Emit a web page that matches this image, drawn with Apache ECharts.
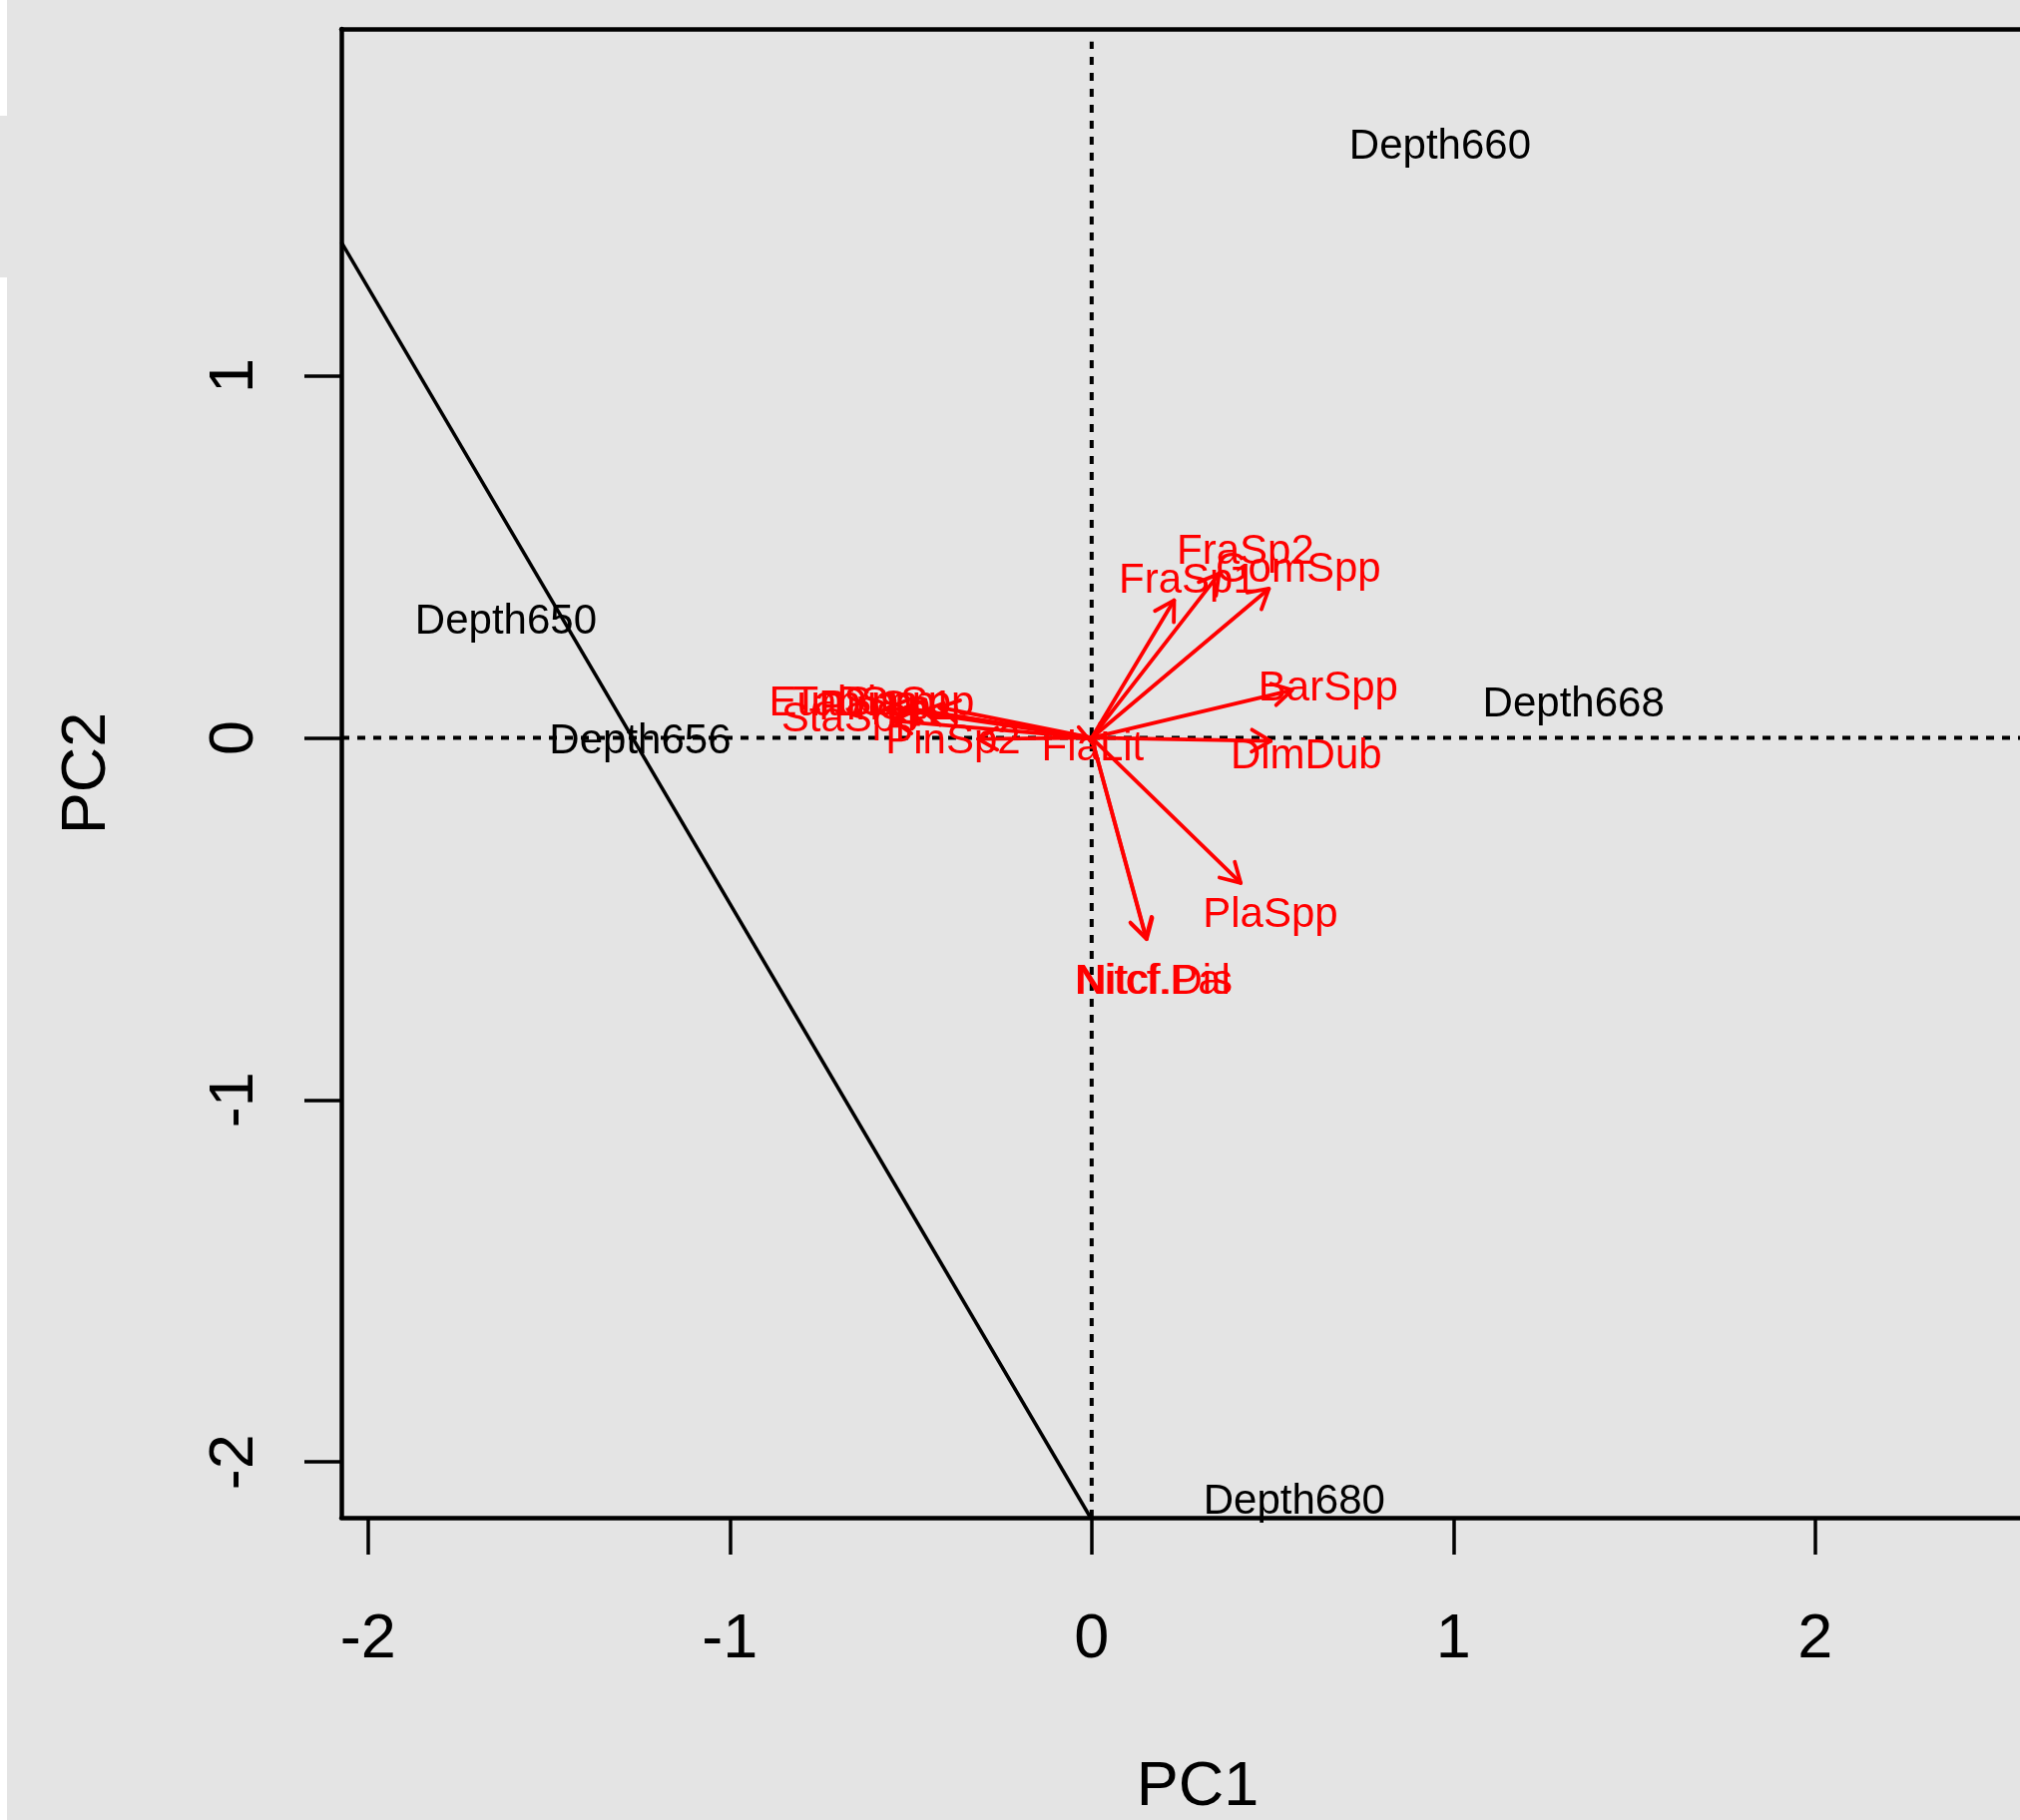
<!DOCTYPE html>
<html><head><meta charset="utf-8">
<script src="https://cdn.jsdelivr.net/npm/echarts@6/dist/echarts.min.js"></script>
<style>html,body{margin:0;padding:0;background:#e4e4e4}#c{width:2024px;height:1824px}</style>
</head><body><div id="c"></div>
<script>
// ---- data ----
const xTicks = [-2, -1, 0, 1, 2];
const yTicks = [-2, -1, 0, 1];
const sampleNames = ['Depth650', 'Depth656', 'Depth660', 'Depth668', 'Depth680'];
const sampleX = [-1.619, -1.248, 0.963, 1.332, 0.560];
const sampleY = [0.327, -0.004, 1.639, 0.099, -2.103];
const varNames = ['EunSpp', 'TabSpp', 'PinSp1', 'DiaSpp', 'StaSpp', 'PinSp2', 'FlaLit',
                  'FraSp1', 'FraSp2', 'GomSpp', 'BarSpp', 'DimDub', 'PlaSpp', 'Nitcf.Pal', 'Nitcf.Dis'];
const varX = [-0.686, -0.629, -0.568, -0.514, -0.668, -0.383, 0.003,
              0.265, 0.425, 0.571, 0.654, 0.593, 0.494, 0.168, 0.174];
const varY = [0.101, 0.101, 0.090, 0.103, 0.057, -0.004, -0.021,
              0.440, 0.520, 0.470, 0.142, -0.043, -0.481, -0.666, -0.666];
const arrowX = [-0.563, -0.516, -0.466, -0.421, -0.548, -0.314, 0.003,
                0.228, 0.352, 0.490, 0.554, 0.495, 0.412, 0.150, 0.152];
const arrowY = [0.083, 0.083, 0.074, 0.084, 0.047, -0.003, -0.017,
                0.380, 0.453, 0.412, 0.132, -0.009, -0.401, -0.553, -0.556];
const lineX = [-2.074, -0.003];
const lineY = [1.369, -2.154];
const xRange = [-2.074, 2.566];
const yRange = [-2.154, 1.958];

const FONT = '"Liberation Sans", Arial, sans-serif';
const RED = '#ff0000';

function textSeries(names, xs, ys, color) {
  return {
    type: 'custom', clip: false, z: 5,
    data: xs.map((x, i) => [x, ys[i]]),
    renderItem: (params, api) => {
      const p = api.coord([api.value(0), api.value(1)]);
      return { type: 'text', x: p[0], y: p[1] + 3,
        style: { text: names[params.dataIndex], fill: color, fontSize: 42, fontFamily: FONT,
                 align: 'center', verticalAlign: 'middle' } };
    }
  };
}

const arrowSeries = {
  type: 'custom', clip: false, z: 4,
  data: arrowX.map((x, i) => [x, arrowY[i]]),
  renderItem: (params, api) => {
    const o = api.coord([0, 0]);
    const t = api.coord([api.value(0), api.value(1)]);
    const ang = Math.atan2(t[1] - o[1], t[0] - o[0]);
    const L = 22, a = Math.PI / 6;
    const h1 = [t[0] - L * Math.cos(ang - a), t[1] - L * Math.sin(ang - a)];
    const h2 = [t[0] - L * Math.cos(ang + a), t[1] - L * Math.sin(ang + a)];
    return { type: 'group', children: [
      { type: 'line', shape: { x1: o[0], y1: o[1], x2: t[0], y2: t[1] }, style: { stroke: RED, lineWidth: 3.8, lineCap: 'round' } },
      { type: 'polyline', shape: { points: [h1, t, h2] }, style: { stroke: RED, lineWidth: 3.8, fill: null, lineCap: 'round', lineJoin: 'round' } }
    ] };
  }
};

const dotted = { color: '#000', width: 4, type: [8, 8] };
const boxLine = { show: true, onZero: false, lineStyle: { color: '#000', width: 4.5 } };

const option = {
  backgroundColor: '#e4e4e4',
  animation: false,
  grid: { left: 342, top: 29, width: 1682, height: 1492, show: false },
  xAxis: [{
    type: 'value', min: xRange[0], max: xRange[1], position: 'bottom',
    axisLine: boxLine, splitLine: { show: false },
    axisTick: { show: true, inside: false, length: 37, lineStyle: { color: '#000', width: 3.5 }, customValues: xTicks },
    axisLabel: { customValues: xTicks, margin: 91, color: '#000', fontSize: 63, fontFamily: FONT, formatter: v => String(v) }
  }, {
    type: 'value', min: xRange[0], max: xRange[1], position: 'top',
    axisLine: boxLine, splitLine: { show: false }, axisTick: { show: false }, axisLabel: { show: false }
  }],
  yAxis: {
    type: 'value', min: yRange[0], max: yRange[1],
    axisLine: boxLine, splitLine: { show: false },
    axisTick: { show: true, inside: false, length: 37, lineStyle: { color: '#000', width: 3.5 }, customValues: yTicks },
    axisLabel: { customValues: yTicks, rotate: 90, margin: 75, color: '#000', fontSize: 63, fontFamily: FONT, formatter: v => String(v) },
    name: 'PC2', nameLocation: 'middle', nameGap: 223,
    nameTextStyle: { color: '#000', fontSize: 63, fontFamily: FONT }
  },
  graphic: [
    { type: 'rect', left: 0, top: 0, shape: { width: 7, height: 116 }, style: { fill: '#ffffff' } },
    { type: 'rect', left: 0, top: 278, shape: { width: 7, height: 1546 }, style: { fill: '#ffffff' } },
    { type: 'text', x: 1200, y: 1792, style: { text: 'PC1', fill: '#000', fontSize: 63, fontFamily: FONT, align: 'center', verticalAlign: 'middle' } }
  ],
  series: [
    { type: 'line', data: [[0, yRange[0]], [0, yRange[1] - 0.035]], symbol: 'none', lineStyle: dotted, z: 2, silent: true },
    { type: 'line', data: [[xRange[0], 0], [xRange[1], 0]], symbol: 'none', lineStyle: dotted, z: 2, silent: true },
    { type: 'line', data: lineX.map((x, i) => [x, lineY[i]]), symbol: 'none', lineStyle: { color: '#000', width: 3.5 }, z: 3, silent: true },
    textSeries(sampleNames, sampleX, sampleY, '#000'),
    arrowSeries,
    textSeries(varNames, varX, varY, RED)
  ]
};
echarts.init(document.getElementById('c')).setOption(option);
</script></body></html>
